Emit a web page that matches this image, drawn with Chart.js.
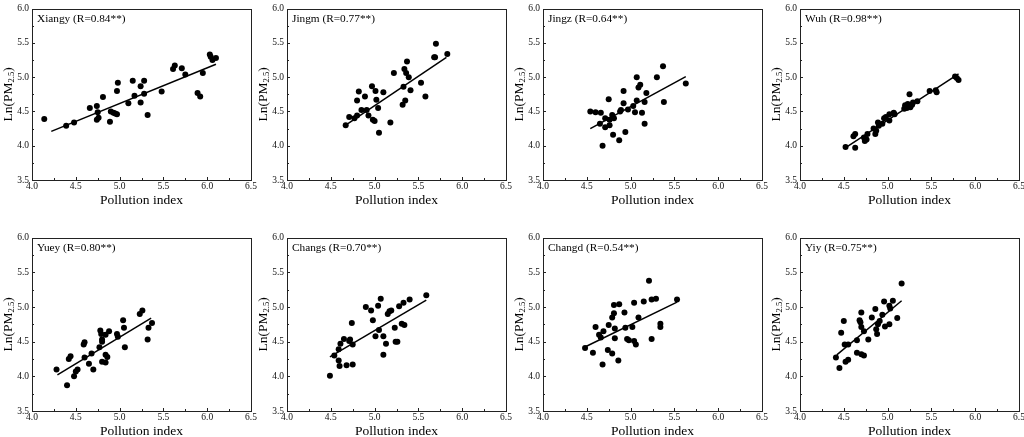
<!DOCTYPE html>
<html>
<head>
<meta charset="utf-8">
<script src="https://cdn.jsdelivr.net/npm/chart.js@4.4.0/dist/chart.umd.min.js"></script>
<style>
  html, body { margin: 0; padding: 0; background: #fff; overflow: hidden; }
  #wrap { position: relative; width: 1024px; height: 437px; }
  canvas { position: absolute; }
</style>
</head>
<body>
<div id="wrap"></div>
<script>
// panel titles
const titles = ['Xiangy (R=0.84**)', 'Jingm (R=0.77**)', 'Jingz (R=0.64**)', 'Wuh (R=0.98**)',
                'Yuey (R=0.80**)', 'Changs (R=0.70**)', 'Changd (R=0.54**)', 'Yiy (R=0.75**)']

const xTicks = [4.0, 4.5, 5.0, 5.5, 6.0, 6.5]
const yTicks = [3.5, 4.0, 4.5, 5.0, 5.5, 6.0]

// points, pollution index / Ln(PM2.5)
const xiangyX = [4.14,4.39,4.48,4.66,4.74,4.75,4.74,4.76,4.81,4.89,4.90,4.93,4.95,4.97,4.97,4.98,5.10,5.15,5.17,5.24,5.24,5.28,5.28,5.32,5.48,5.61,5.63,5.71,5.75,5.89,5.92,5.95,6.03,6.04,6.06,6.10]
const xiangyY = [4.39,4.29,4.34,4.55,4.58,4.49,4.38,4.41,4.71,4.35,4.50,4.48,4.47,4.46,4.80,4.92,4.62,4.95,4.73,4.63,4.87,4.76,4.95,4.45,4.79,5.12,5.17,5.13,5.04,4.77,4.72,5.06,5.33,5.30,5.25,5.28]

const jingmX = [4.67,4.71,4.77,4.80,4.80,4.82,4.85,4.89,4.91,4.93,4.97,4.98,5.00,5.01,5.02,5.04,5.05,5.10,5.18,5.22,5.32,5.33,5.34,5.35,5.36,5.37,5.39,5.41,5.53,5.58,5.68,5.69,5.70,5.83]
const jingmY = [4.30,4.42,4.40,4.44,4.66,4.79,4.52,4.72,4.52,4.44,4.87,4.38,4.36,4.80,4.67,4.55,4.19,4.78,4.34,5.06,4.60,4.86,5.12,4.66,5.06,5.23,5.00,4.81,4.92,4.72,5.29,5.29,5.49,5.34]

const jingzX = [4.54,4.60,4.66,4.65,4.71,4.71,4.75,4.76,4.76,4.79,4.81,4.80,4.68,4.87,4.94,4.88,4.89,4.92,4.92,4.97,5.03,5.05,5.07,5.07,5.09,5.11,5.13,5.16,5.16,5.18,5.30,5.37,5.38,5.63]
const jingzY = [4.50,4.49,4.48,4.32,4.40,4.27,4.68,4.30,4.38,4.45,4.40,4.16,4.00,4.08,4.20,4.50,4.52,4.80,4.62,4.53,4.58,4.49,4.66,5.00,4.85,4.89,4.48,4.64,4.32,4.77,5.00,5.16,4.64,4.91]

const wuhX = [4.52,4.63,4.61,4.63,4.73,4.74,4.76,4.77,4.84,4.86,4.87,4.89,4.90,4.94,4.96,4.98,5.02,5.02,5.07,5.08,5.19,5.20,5.22,5.23,5.25,5.26,5.28,5.29,5.34,5.48,5.55,5.56,5.77,5.79,5.81]
const wuhY = [3.98,3.97,4.14,4.17,4.12,4.07,4.09,4.17,4.25,4.17,4.22,4.34,4.29,4.32,4.40,4.42,4.37,4.46,4.48,4.46,4.54,4.59,4.55,4.61,4.75,4.56,4.60,4.63,4.65,4.80,4.81,4.78,5.01,4.99,4.96]

const yueyX = [4.28,4.40,4.42,4.44,4.48,4.50,4.52,4.59,4.60,4.60,4.65,4.68,4.70,4.77,4.78,4.79,4.80,4.80,4.80,4.84,4.84,4.84,4.86,4.88,4.97,4.98,5.04,5.05,5.06,5.23,5.26,5.32,5.33,5.37]
const yueyY = [4.10,3.87,4.25,4.29,4.00,4.07,4.10,4.46,4.49,4.27,4.18,4.33,4.10,4.42,4.66,4.61,4.53,4.50,4.21,4.20,4.60,4.31,4.28,4.65,4.61,4.57,4.81,4.70,4.42,4.90,4.95,4.53,4.70,4.77]

const changsX = [4.49,4.54,4.59,4.59,4.60,4.61,4.65,4.68,4.71,4.72,4.74,4.75,4.75,4.90,4.96,4.98,5.01,5.04,5.05,5.07,5.10,5.10,5.13,5.15,5.17,5.19,5.23,5.24,5.26,5.28,5.31,5.34,5.33,5.40,5.59]
const changsY = [4.01,4.30,4.39,4.23,4.15,4.47,4.54,4.16,4.51,4.53,4.77,4.46,4.17,5.00,4.95,4.81,4.58,5.02,4.67,5.12,4.58,4.31,4.47,4.90,4.94,4.95,4.70,4.50,4.50,5.01,4.76,4.74,5.06,5.11,5.17]

const changdX = [4.48,4.57,4.60,4.64,4.66,4.69,4.68,4.74,4.75,4.79,4.79,4.81,4.81,4.82,4.82,4.86,4.87,4.93,4.94,4.96,4.98,5.02,5.04,5.04,5.06,5.09,5.15,5.21,5.24,5.24,5.29,5.34,5.34,5.53]
const changdY = [4.41,4.34,4.71,4.60,4.56,4.65,4.17,4.38,4.74,4.85,4.33,4.91,5.03,4.69,4.55,4.23,5.04,4.92,4.70,4.54,4.52,4.71,5.06,4.51,4.46,4.85,5.08,5.38,4.54,5.11,5.12,4.71,4.76,5.11]

const yiyX = [4.41,4.45,4.47,4.50,4.51,4.52,4.55,4.55,4.65,4.65,4.68,4.70,4.69,4.70,4.70,4.73,4.73,4.78,4.82,4.86,4.87,4.88,4.89,4.91,4.94,4.96,4.97,5.02,5.02,5.03,5.06,5.11,5.16]
const yiyY = [4.27,4.12,4.63,4.80,4.46,4.21,4.46,4.24,4.52,4.34,4.81,4.92,4.78,4.71,4.32,4.65,4.30,4.53,4.85,4.97,4.68,4.61,4.75,4.80,4.89,5.08,4.72,4.75,5.02,4.98,5.09,4.84,5.34]

// fitted line ends, as seen in the picture
const fitX = [[4.22,6.10],[4.67,5.82],[4.54,5.63],[4.53,5.81],[4.29,5.36],[4.49,5.59],[4.49,5.53],[4.42,5.16]]
const fitY = [[4.21,5.19],[4.30,5.29],[4.25,5.01],[3.98,5.05],[4.02,4.84],[4.28,5.10],[4.43,5.07],[4.31,5.09]]

const allX = [xiangyX, jingmX, jingzX, wuhX, yueyX, changsX, changdX, yiyX]
const allY = [xiangyY, jingmY, jingzY, wuhY, yueyY, changsY, changdY, yiyY]

const SERIF = "'Liberation Serif', 'Times New Roman', serif"
const plotLeft = [32, 287, 543, 800]
const rowTop = [7, 236]
const rowH = [173, 175]
const PLOT_W = 219

// frame, inward ticks, titles
const decorPlugin = {
  id: 'decor',
  afterDraw(chart, args, opts) {
    const ctx = chart.ctx
    const a = chart.chartArea
    const xs = chart.scales.x, ys = chart.scales.y
    ctx.save()
    ctx.strokeStyle = '#222'
    ctx.lineWidth = 1
    ctx.strokeRect(Math.round(a.left) + 0.5, Math.round(a.top) + 0.5, Math.round(a.right - a.left), Math.round(a.bottom - a.top))

    ctx.beginPath()
    for (let v = 4.0; v <= 6.5001; v += 0.25) {
      let px = Math.round(xs.getPixelForValue(v)) + 0.5
      let len = Math.abs((v * 2) % 1) < 0.01 ? 3 : 2
      ctx.moveTo(px, a.bottom)
      ctx.lineTo(px, a.bottom - len)
    }
    for (let v = 3.5; v <= 6.0001; v += 0.25) {
      let py = Math.round(ys.getPixelForValue(v)) + 0.5
      let len = Math.abs((v * 2) % 1) < 0.01 ? 3 : 2
      ctx.moveTo(a.left, py)
      ctx.lineTo(a.left + len, py)
    }
    ctx.stroke()

    ctx.fillStyle = '#000'
    // panel label
    ctx.font = '11.3px ' + SERIF
    ctx.textAlign = 'left'
    ctx.textBaseline = 'alphabetic'
    ctx.fillText(opts.title, a.left + 5, a.top + 13)

    // x title
    ctx.font = '13.5px ' + SERIF
    ctx.textAlign = 'center'
    ctx.fillText('Pollution index', (a.left + a.right) / 2, a.bottom + 24)

    // y title with subscript
    ctx.translate(a.left - 20, (a.top + a.bottom) / 2)
    ctx.rotate(-Math.PI / 2)
    ctx.textAlign = 'left'
    ctx.font = '13.5px ' + SERIF
    let w1 = ctx.measureText('Ln(PM').width
    let w3 = ctx.measureText(')').width
    ctx.font = '8.5px ' + SERIF
    let w2 = ctx.measureText('2.5').width
    let x0 = -(w1 + w2 + w3) / 2
    ctx.font = '13.5px ' + SERIF
    ctx.fillText('Ln(PM', x0, 0)
    ctx.font = '8.5px ' + SERIF
    ctx.fillText('2.5', x0 + w1, 2)
    ctx.font = '13.5px ' + SERIF
    ctx.fillText(')', x0 + w1 + w2, 0)
    ctx.restore()
  }
}

const wrap = document.getElementById('wrap')

for (let i = 0; i < 8; i++) {
  let col = i % 4, row = Math.floor(i / 4)
  let cv = document.createElement('canvas')
  let cw = 32 + PLOT_W + 14
  let ch = 7 + rowH[row] + 30
  cv.width = cw
  cv.height = ch
  cv.style.width = cw + 'px'
  cv.style.height = ch + 'px'
  cv.style.left = (plotLeft[col] - 32) + 'px'
  cv.style.top = (rowTop[row] - 7) + 'px'
  wrap.appendChild(cv)

  let pts = allX[i].map((x, k) => ({ x: x, y: allY[i][k] }))
  let fit = fitX[i].map((x, k) => ({ x: x, y: fitY[i][k] }))

  new Chart(cv, {
    type: 'scatter',
    data: {
      datasets: [
        {
          data: pts,
          backgroundColor: '#000',
          borderColor: '#000',
          pointRadius: 3,
          pointBorderWidth: 0
        },
        {
          type: 'line',
          data: fit,
          borderColor: '#000',
          borderWidth: 1.5,
          pointRadius: 0,
          showLine: true,
          fill: false
        }
      ]
    },
    options: {
      responsive: false,
      animation: false,
      devicePixelRatio: window.devicePixelRatio || 1,
      layout: { padding: { left: 0, right: 14, top: 7, bottom: 0 }, autoPadding: false },
      plugins: {
        legend: { display: false },
        tooltip: { enabled: false },
        decor: { title: titles[i] }
      },
      scales: {
        x: {
          type: 'linear',
          min: 4.0,
          max: 6.5,
          grid: { display: false, drawTicks: false },
          border: { display: false },
          afterBuildTicks: (s) => { s.ticks = xTicks.map(v => ({ value: v })) },
          afterFit: (s) => { s.height = 30 },
          ticks: {
            font: { family: SERIF, size: 9.5 },
            color: '#111',
            padding: 1,
            maxRotation: 0,
            callback: (v) => Number(v).toFixed(1)
          }
        },
        y: {
          type: 'linear',
          min: 3.5,
          max: 6.0,
          grid: { display: false, drawTicks: false },
          border: { display: false },
          afterBuildTicks: (s) => { s.ticks = yTicks.map(v => ({ value: v })) },
          afterFit: (s) => { s.width = 32 },
          ticks: {
            font: { family: SERIF, size: 9.5 },
            color: '#111',
            padding: 3,
            callback: (v) => Number(v).toFixed(1)
          }
        }
      }
    },
    plugins: [decorPlugin]
  })
}
</script>
</body>
</html>
